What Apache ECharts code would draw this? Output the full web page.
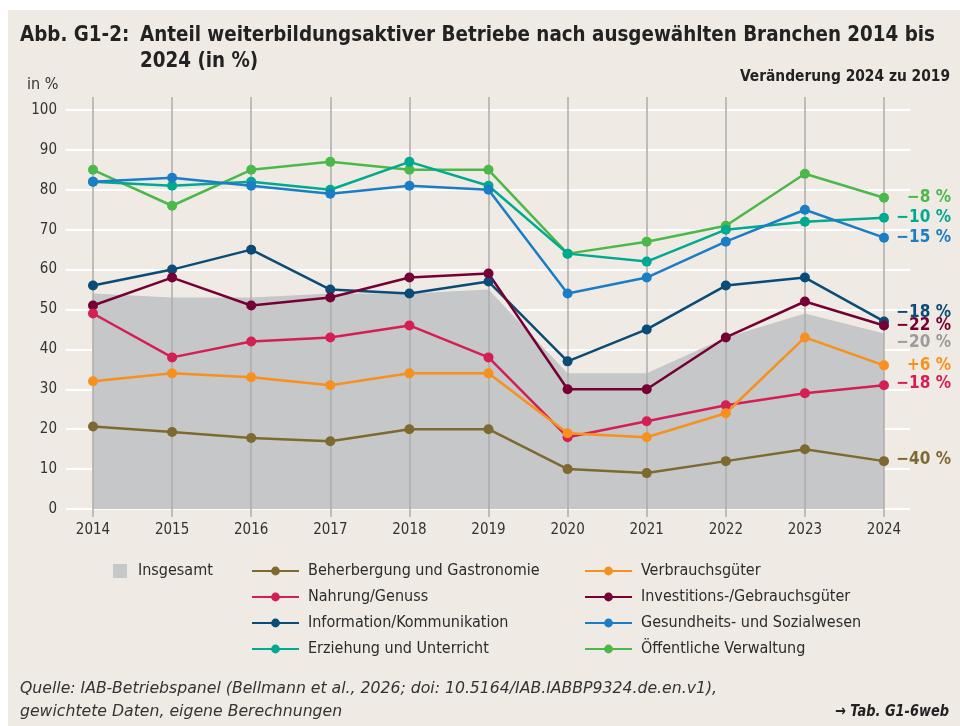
<!DOCTYPE html>
<html><head><meta charset="utf-8">
<script src="https://cdn.jsdelivr.net/npm/echarts@6/dist/echarts.min.js"></script>
<style>
html,body{margin:0;padding:0;background:#fff;}
#wrap{position:relative;width:960px;height:726px;overflow:hidden;background:#fff}
#bg{position:absolute;left:8px;top:10px;right:0;bottom:0;background:#efebe4}
#c{position:absolute;left:0;top:0;width:960px;height:726px}
</style></head>
<body><div id="wrap"><div id="bg"></div><div id="c"></div></div>
<script>
// ---------- DATA ----------
const years = ['2014','2015','2016','2017','2018','2019','2020','2021','2022','2023','2024'];
const insgesamt        = [54, 53, 53, 54, 54, 55, 34, 34, 43, 49, 44];
const beherbergung     = [20.7, 19.3, 17.8, 17, 20, 20, 10, 9, 12, 15, 12];
const verbrauchsgueter = [32, 34, 33, 31, 34, 34, 19, 18, 24, 43, 36];
const nahrung          = [49, 38, 42, 43, 46, 38, 18, 22, 26, 29, 31];
const investitions     = [51, 58, 51, 53, 58, 59, 30, 30, 43, 52, 46];
const information      = [56, 60, 65, 55, 54, 57, 37, 45, 56, 58, 47];
const gesundheit       = [82, 83, 81, 79, 81, 80, 54, 58, 67, 75, 68];
const erziehung        = [82, 81, 82, 80, 87, 81, 64, 62, 70, 72, 73];
const verwaltung       = [85, 76, 85, 87, 85, 85, 64, 67, 71, 84, 78];
const seriesNames = ['Insgesamt','Beherbergung und Gastronomie','Verbrauchsgüter','Nahrung/Genuss',
  'Investitions-/Gebrauchsgüter','Information/Kommunikation','Gesundheits- und Sozialwesen',
  'Erziehung und Unterricht','Öffentliche Verwaltung'];
const changeLabels = ['−20 %','−40 %','+6 %','−18 %','−22 %','−18 %','−15 %','−10 %','−8 %'];
const yMin = 0, yMax = 100, yStep = 10;

// ---------- STYLE ----------
const FONT = '"DejaVu Sans Condensed", "DejaVu Sans", sans-serif';
const colors = ['#c6c7c9','#7e6a30','#f7901e','#d41f54','#760033','#0b4b77','#1b7dc5','#00a98f','#4cb84a'];
const labelColors = ['#9b9b9b','#7e6a30','#f7901e','#d41f54','#760033','#0b4b77','#1b7dc5','#00a98f','#4cb84a'];
const labelDy = [9, -2, 0, -2, 0, -9, 0, 0, 0];
const seriesData = [insgesamt, beherbergung, verbrauchsgueter, nahrung, investitions, information, gesundheit, erziehung, verwaltung];
const drawOrder = [0, 8, 7, 6, 5, 4, 3, 2, 1];
const LABEL_X = 67, SYM = 10;

function withEndLabel(arr, idx, half) {
  return arr.map((v, i) => i < arr.length - 1 ? v : {
    value: v,
    label: {
      show: true, formatter: changeLabels[idx], position: [half + LABEL_X, half + labelDy[idx]],
      align: 'right', verticalAlign: 'middle', color: labelColors[idx],
      fontWeight: 'bold', fontSize: 17, fontFamily: FONT
    }
  });
}

const series = drawOrder.map(idx => {
  if (idx === 0) {
    return {
      name: seriesNames[0], type: 'line', xAxisIndex: 1, yAxisIndex: 1, z: 1,
      data: withEndLabel(insgesamt, 0, 0), symbol: 'circle', symbolSize: 0.01, showSymbol: true,
      lineStyle: { width: 0 }, itemStyle: { color: colors[0] },
      areaStyle: { color: colors[0], opacity: 1 }, label: { show: false }
    };
  }
  return {
    name: seriesNames[idx], type: 'line', xAxisIndex: 1, yAxisIndex: 1, z: 3,
    data: withEndLabel(seriesData[idx], idx, SYM / 2), symbol: 'circle', symbolSize: SYM, showSymbol: true,
    lineStyle: { width: 2.5, color: colors[idx] }, itemStyle: { color: colors[idx] }, label: { show: false }
  };
});

const measureCtx = document.createElement('canvas').getContext('2d');
function fit(text, font, target) { measureCtx.font = font; return target / measureCtx.measureText(text).width; }

const titleFont = 'bold 22px ' + FONT;
const titleLine1 = 'Anteil weiterbildungsaktiver Betriebe nach ausgewählten Branchen 2014 bis';
const sTitle = fit(titleLine1, titleFont, 795);
const footFont = 'italic 16px ' + FONT;
const foot1 = 'Quelle: IAB-Betriebspanel (Bellmann et al., 2026; doi: 10.5164/IAB.IABBP9324.de.en.v1),';
const sFoot = fit(foot1, footFont, 697);
const verFont = 'bold 16px ' + FONT;
const verText = 'Veränderung 2024 zu 2019';
const sVer = fit(verText, verFont, 210);
const tabFont = 'bold italic 16px ' + FONT;
const tabText = '→ Tab. G1-6web';
const sTab = fit(tabText, tabFont, 114);

function txt(x, y, text, font, scale, align, color) {
  return { type: 'text', x: x, y: y, scaleX: scale, z: 10,
    style: { text: text, font: font, fill: color || '#222', align: align || 'left', verticalAlign: 'middle' } };
}

const legendText = { fontSize: 16, color: '#2b2b2b', fontFamily: FONT, padding: [0, 0, 0, 4] };

const option = {
  animation: false,
  backgroundColor: 'transparent',
  graphic: [
    txt(20, 35, 'Abb. G1-2:', titleFont, sTitle),
    txt(140, 35, titleLine1, titleFont, sTitle),
    txt(140, 61, '2024 (in %)', titleFont, sTitle),
    txt(27, 85, 'in %', '16px ' + FONT, 1, 'left', '#333'),
    txt(950, 77, verText, verFont, sVer, 'right', '#222'),
    txt(20, 689, foot1, footFont, sFoot, 'left', '#333'),
    txt(20, 712, 'gewichtete Daten, eigene Berechnungen', footFont, sFoot, 'left', '#333'),
    txt(949, 712, tabText, tabFont, sTab, 'right', '#222')
  ],
  legend: [
    { data: [seriesNames[0]], left: 108, top: 558, icon: 'rect', itemWidth: 14, itemHeight: 14,
      selectedMode: false, textStyle: Object.assign({}, legendText, { padding: [0, 0, 0, 6] }) },
    { data: [seriesNames[1], seriesNames[3], seriesNames[5], seriesNames[7]], orient: 'vertical',
      left: 246, top: 558, itemWidth: 47, itemHeight: 11, itemGap: 10, selectedMode: false, textStyle: legendText },
    { data: [seriesNames[2], seriesNames[4], seriesNames[6], seriesNames[8]], orient: 'vertical',
      left: 579, top: 558, itemWidth: 47, itemHeight: 11, itemGap: 10, selectedMode: false, textStyle: legendText }
  ],
  grid: [
    { left: 66, right: 50, top: 110, bottom: 217 },
    { left: 93, right: 76, top: 97, bottom: 209 }
  ],
  xAxis: [
    { gridIndex: 0, type: 'category', data: years, show: false },
    { gridIndex: 1, type: 'category', data: years, boundaryGap: false, z: 2,
      axisLine: { show: false }, axisTick: { show: false },
      axisLabel: { margin: 6, fontSize: 15, color: '#333', fontFamily: FONT },
      splitLine: { show: true, lineStyle: { color: '#adadad', width: 1.5 } } }
  ],
  yAxis: [
    { gridIndex: 0, type: 'value', min: yMin, max: yMax, interval: yStep,
      axisLine: { show: false }, axisTick: { show: false },
      axisLabel: { margin: 9, fontSize: 15, color: '#333', fontFamily: FONT },
      splitLine: { show: true, lineStyle: { color: '#ffffff', width: 2 } } },
    { gridIndex: 1, type: 'value', min: -2, max: 103.25, show: false, splitLine: { show: false } }
  ],
  series: series
};

const chart = echarts.init(document.getElementById('c'), null, { renderer: 'canvas' });
chart.setOption(option);
</script>
</body></html>
